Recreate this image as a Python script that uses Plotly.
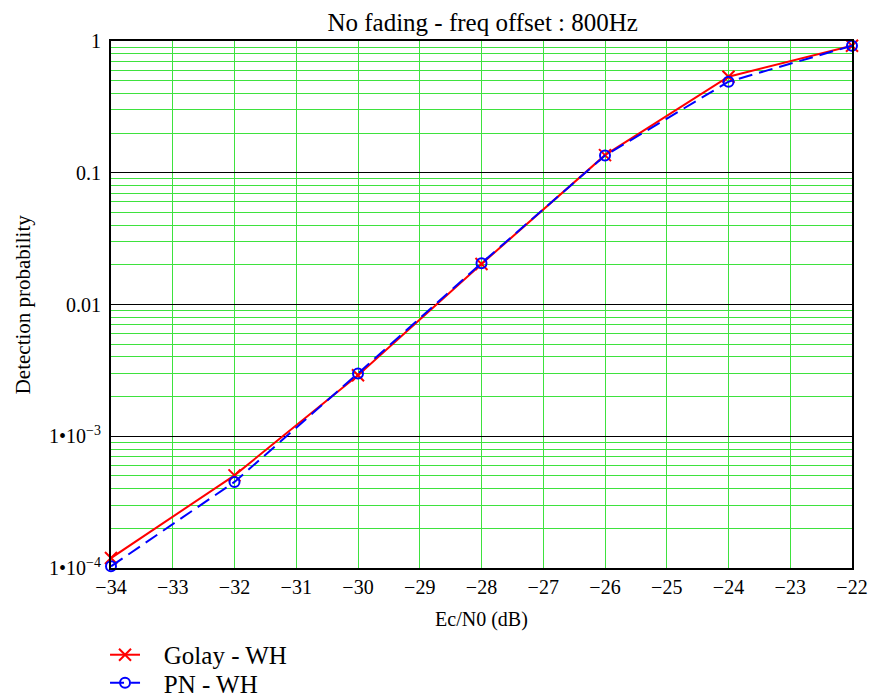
import plotly.graph_objects as go

ecn0 = [-34, -32, -30, -28, -26, -24, -22]
golay_wh = [1.19e-4, 5.05e-4, 2.9e-3, 0.0203, 0.136, 0.536, 0.92]
pn_wh = [1.03e-4, 4.5e-4, 3.0e-3, 0.0206, 0.135, 0.491, 0.92]

x_ticks = list(range(-34, -21))
x_ticktext = ["−%d" % (-v) for v in x_ticks]
y_ticks = [1e-4, 1e-3, 1e-2, 1e-1, 1]
y_ticktext = ["1•10<sup>−4</sup>", "1•10<sup>−3</sup>", "0.01", "0.1", "1"]

FONT = "Liberation Serif, Times New Roman, serif"
GREEN = "#3ee23e"
NB = "\u00a0\u00a0\u00a0"

fig = go.Figure()
fig.add_trace(go.Scatter(
    x=ecn0, y=golay_wh, name=NB + "Golay - WH", mode="lines+markers",
    line=dict(color="#ff0000", width=2),
    marker=dict(symbol="x-thin-open", size=12, color="#ff0000",
                line=dict(color="#ff0000", width=2)),
    cliponaxis=False, legend="legend",
))
fig.add_trace(go.Scatter(
    x=ecn0, y=pn_wh, name=NB + "PN - WH", mode="lines+markers",
    line=dict(color="#0000ff", width=2, dash="14px,7px"),
    marker=dict(symbol="circle-open", size=10, color="#0000ff",
                line=dict(color="#0000ff", width=2)),
    cliponaxis=False, legend="legend2",
))

legend_common = dict(
    xref="container", yref="container", xanchor="left", yanchor="top",
    font=dict(size=25, family=FONT), bgcolor="rgba(0,0,0,0)",
    tracegroupgap=0, itemwidth=30,
)

fig.update_layout(
    width=871, height=691,
    margin=dict(l=103, r=27, t=33, b=131, autoexpand=False),
    paper_bgcolor="white", plot_bgcolor="white",
    font=dict(family=FONT, color="black", size=20),
    title=dict(text="No fading - freq offset : 800Hz", x=0.545, xanchor="center",
               y=0.98, yanchor="middle", font=dict(size=25, family=FONT)),
    xaxis=dict(
        range=[-34, -22], tickvals=x_ticks, ticktext=x_ticktext,
        showgrid=True, gridcolor=GREEN, gridwidth=1,
        showline=True, linecolor="black", linewidth=2, mirror=True,
        ticks="", zeroline=False, automargin=False,
        tickfont=dict(size=20, family=FONT),
        title=dict(text="Ec/N0 (dB)", font=dict(size=20, family=FONT), standoff=15),
    ),
    yaxis=dict(
        type="log", range=[-4, 0], tickvals=y_ticks, ticktext=y_ticktext,
        showgrid=True, gridcolor="black", gridwidth=1,
        minor=dict(dtick="D1", showgrid=True, gridcolor=GREEN, gridwidth=1, ticks=""),
        showline=True, linecolor="black", linewidth=2, mirror=True,
        ticks="outside", ticklen=4, tickcolor="rgba(0,0,0,0)", zeroline=False,
        automargin=False,
        tickfont=dict(size=20, family=FONT),
    ),
    annotations=[dict(
        text="Detection probability", xref="paper", yref="paper",
        x=-0.119, y=0.5, xanchor="center", yanchor="middle",
        textangle=-90, showarrow=False, font=dict(size=21, family=FONT),
    )],
    legend=dict(x=0.1114, y=0.097, **legend_common),
    legend2=dict(x=0.1114, y=0.0564, **legend_common),
    showlegend=True,
)

fig.write_html("out.html")
